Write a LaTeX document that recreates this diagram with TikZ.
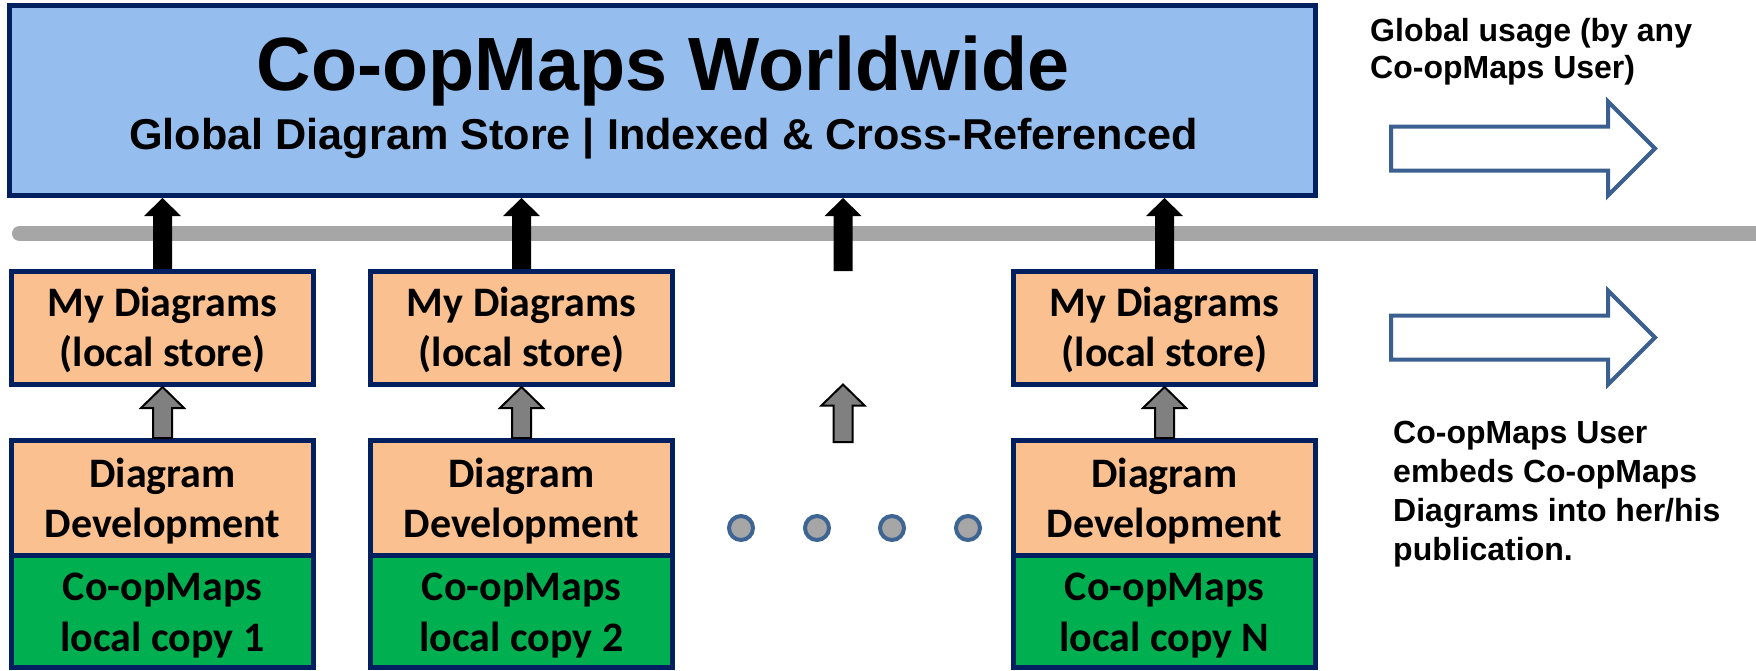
\documentclass[tikz,border=0pt]{standalone}
\usepackage{fontspec}
\setmainfont{Liberation Sans}
\newfontfamily\calfont{Carlito}
\usetikzlibrary{calc}
\definecolor{navy}{HTML}{002060}
\definecolor{topblue}{HTML}{95BDEE}
\definecolor{peach}{HTML}{FAC090}
\definecolor{grn}{HTML}{00B050}
\definecolor{bargray}{HTML}{A6A6A6}
\definecolor{ringblue}{HTML}{3D6493}
\definecolor{hollowblue}{HTML}{3B6090}
\definecolor{midgray}{HTML}{808080}
\newcommand\upblock[6]{\path[#1] let \p1=#2, \p2=#3 in
  (\x1-#4,\y1) -- (\x1-#4,\y2-#6) -- (\x1-#5,\y2-#6) -- (\x1,\y2) --
  (\x1+#5,\y2-#6) -- (\x1+#4,\y2-#6) -- (\x1+#4,\y1) -- cycle;}
\tikzset{
  boxbase/.style={draw=navy, line width=5pt, minimum width=302pt, inner sep=0pt,
    align=center, text depth=0pt},
  mdbox/.style={boxbase, fill=peach, minimum height=113pt, text height=76pt,
    font={\calfont\bfseries\fontsize{42}{50}\selectfont}},
  ddbox/.style={boxbase, fill=peach, minimum height=114.5pt, text height=78.5pt,
    font={\calfont\bfseries\fontsize{42}{50}\selectfont}},
  gcbox/.style={boxbase, fill=grn, minimum height=112.5pt, text height=79.5pt,
    font={\calfont\bfseries\fontsize{42}{51}\selectfont}},
  blackarrow/.style={fill=black},
  grayarrow/.style={fill=midgray, draw=black, line width=2pt, line join=miter},
  hollowarrow/.style={draw=hollowblue, line width=4pt, fill=white, line join=miter},
  dotnode/.style={circle, draw=ringblue, fill=bargray, line width=4pt,
    minimum size=24pt, inner sep=0pt},
  sidetext/.style={anchor=base west, align=left, inner sep=0pt},
}
\begin{document}
\begin{tikzpicture}[x=1pt,y=-1pt]
\useasboundingbox (0,0) rectangle (1756,670);
% top store
\node[draw=navy, line width=5pt, fill=topblue, minimum width=1306pt,
  minimum height=190pt, inner sep=0pt] (top) at (662.5,100.5) {};
\node[anchor=base, inner sep=0pt, font={\bfseries\fontsize{75.5}{80}\selectfont}]
  (title) at (663,90) {Co-opMaps Worldwide};
\node[anchor=base, inner sep=0pt, font={\bfseries\fontsize{43.2}{48}\selectfont}]
  (subtitle) at (663.5,149) {Global Diagram Store | Indexed \& Cross-Referenced};
% gray bar
\draw[bargray, line width=15pt, line cap=round] (19.5,233.5) -- (1765,233.5);
% columns
\node[mdbox] (md1) at (162.5,328) {My Diagrams\\(local store)};
\node[mdbox] (md2) at (521.5,328) {My Diagrams\\(local store)};
\node[mdbox] (mdN) at (1164.5,328) {My Diagrams\\(local store)};
\node[ddbox] (dd1) at (162.5,497.75) {Diagram\\Development};
\node[ddbox] (dd2) at (521.5,497.75) {Diagram\\Development};
\node[ddbox] (ddN) at (1164.5,497.75) {Diagram\\Development};
\node[gcbox] (gc1) at (162.5,611.25) {Co-opMaps\\local copy 1};
\node[gcbox] (gc2) at (521.5,611.25) {Co-opMaps\\local copy 2};
\node[gcbox] (gcN) at (1164.5,611.25) {Co-opMaps\\local copy N};
% free column
\coordinate (b3) at (843,271);
\coordinate (g3b) at (843,442);
\coordinate (g3t) at (843,384.5);
% black arrows to the global store
\upblock{blackarrow}{(md1.north)}{(md1.north |- top.south)}{9.5pt}{18.5pt}{18pt}
\upblock{blackarrow}{(md2.north)}{(md2.north |- top.south)}{9.5pt}{18.5pt}{18pt}
\upblock{blackarrow}{(b3)}{(b3 |- top.south)}{9.5pt}{18.5pt}{18pt}
\upblock{blackarrow}{(mdN.north)}{(mdN.north |- top.south)}{9.5pt}{18.5pt}{18pt}
% gray arrows to local stores
\upblock{grayarrow}{(dd1.north)}{(md1.south)}{9.5pt}{21.5pt}{21pt}
\upblock{grayarrow}{(dd2.north)}{(md2.south)}{9.5pt}{21.5pt}{21pt}
\upblock{grayarrow}{(g3b)}{(g3t)}{9.5pt}{21.5pt}{21pt}
\upblock{grayarrow}{(ddN.north)}{(mdN.south)}{9.5pt}{21.5pt}{21pt}
% dots
\node[dotnode] (dot1) at (741,528) {};
\node[dotnode] (dot2) at (817,528) {};
\node[dotnode] (dot3) at (892,528) {};
\node[dotnode] (dot4) at (968,528) {};
% right side
\node[sidetext, font={\bfseries\fontsize{32}{37}\selectfont}] (gusage) at (1370,78)
  {Global usage (by any\\Co-opMaps User)};
\draw[hollowarrow] (1391,126.5) -- (1608,126.5) -- (1608,101.5) -- (1655,148.5)
  -- (1608,195.5) -- (1608,170.5) -- (1391,170.5) -- cycle;
\draw[hollowarrow] (1391,315.5) -- (1608,315.5) -- (1608,290.5) -- (1655,337.5)
  -- (1608,384.5) -- (1608,359.5) -- (1391,359.5) -- cycle;
\node[sidetext, font={\bfseries\fontsize{32}{38.7}\selectfont}] (embed) at (1393,560)
  {Co-opMaps User\\embeds Co-opMaps\\Diagrams into her/his\\publication.};
\end{tikzpicture}
\end{document}
